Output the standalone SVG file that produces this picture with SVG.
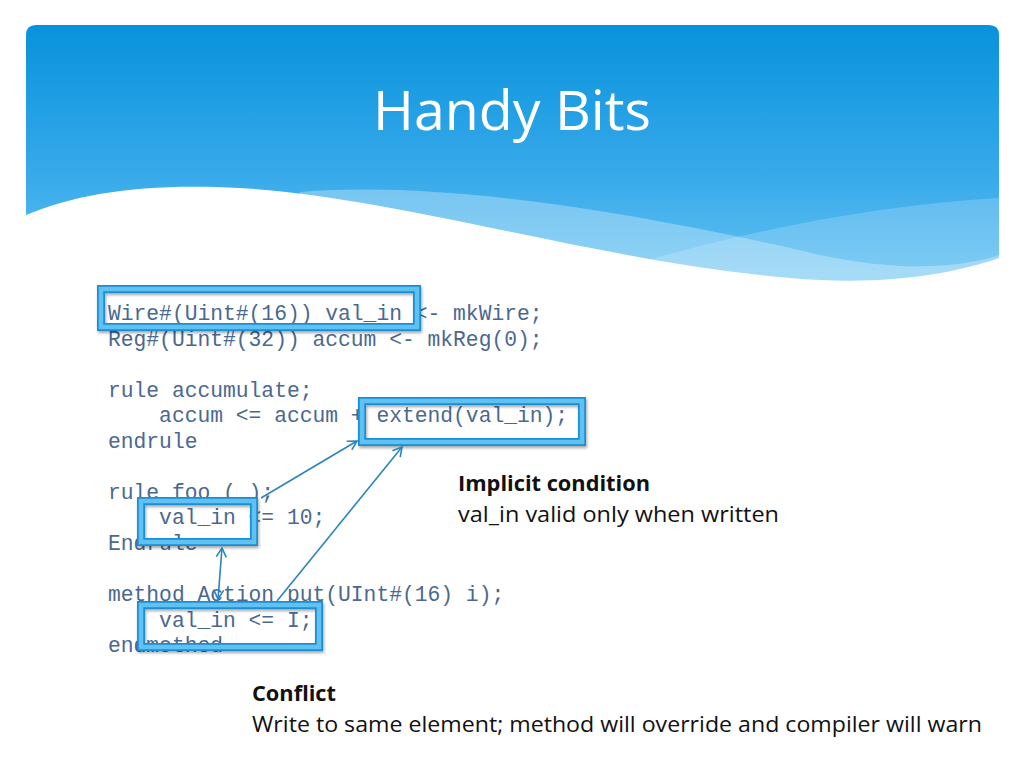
<svg xmlns="http://www.w3.org/2000/svg" width="1024" height="768" viewBox="0 0 1024 768">
<defs>
<linearGradient id="hdr" x1="0" y1="0" x2="0" y2="1">
<stop offset="0" stop-color="#0892dc"/>
<stop offset="0.55" stop-color="#38aaea"/>
<stop offset="1" stop-color="#6cc6f4"/>
</linearGradient>
<clipPath id="hclip"><path d="M26,35 Q26,25 36,25 H989 Q999,25 999,35 V300 H26 Z"/></clipPath>
<filter id="sh" x="-10%" y="-30%" width="120%" height="160%">
<feDropShadow dx="1" dy="2" stdDeviation="1.5" flood-color="#000" flood-opacity="0.35"/>
</filter>
<marker id="ah" markerWidth="12" markerHeight="12" refX="10" refY="6" orient="auto-start-reverse" markerUnits="userSpaceOnUse">
<path d="M1,1 L10,6 L1,11" fill="none" stroke="#2a85bd" stroke-width="1.6"/>
</marker>
<style>
.code{font-family:"Liberation Mono","Courier New",monospace;font-size:21.3px;fill:#4a6890}
.hl-o{fill:none;stroke:#1d8ed4;stroke-width:8}
.hl-i{fill:none;stroke:#5ec2f3;stroke-width:4.5}
.note{font-family:"Open Sans","Noto Sans",sans-serif;font-size:22px;fill:#111}
.bold{font-weight:bold}
.conn{stroke:#2a85bd;stroke-width:1.6;fill:none}
</style>
</defs>
<rect width="1024" height="768" fill="#fff"/>
<g id="header">
<g clip-path="url(#hclip)">
<rect x="26" y="25" width="973" height="275" fill="url(#hdr)"/>
<path d="M300,192 C 450,180 650,215 820,255 C 900,272 960,268 999,255 L999,300 L300,300 Z" fill="#fff" opacity="0.3"/>
<path d="M640,262 C 760,228 880,205 999,198 L999,300 L640,300 Z" fill="#fff" opacity="0.18"/>
<path d="M26,215 C 80,192 150,183 240,188 C 400,197 600,262 790,278 C 880,286 950,275 999,258 L999,300 L26,300 Z" fill="#fff"/>
</g>
<text x="512" y="130" text-anchor="middle" font-family="Open Sans, Noto Sans, sans-serif" font-size="55" fill="#fff" textLength="278" lengthAdjust="spacingAndGlyphs">Handy Bits</text>
</g>
<g id="code">
<text class="code" x="108" y="320" xml:space="preserve">Wire#(Uint#(16)) val_in &lt;- mkWire;</text>
<text class="code" x="108" y="346" xml:space="preserve">Reg#(Uint#(32)) accum &lt;- mkReg(0);</text>
<text class="code" x="108" y="397" xml:space="preserve">rule accumulate;</text>
<text class="code" x="108" y="422" xml:space="preserve">    accum &lt;= accum + extend(val_in);</text>
<text class="code" x="108" y="448" xml:space="preserve">endrule</text>
<text class="code" x="108" y="499" xml:space="preserve">rule foo ( );</text>
<text class="code" x="108" y="524" xml:space="preserve">    val_in &lt;= 10;</text>
<text class="code" x="108" y="550" xml:space="preserve">Endrule</text>
<text class="code" x="108" y="601" xml:space="preserve">method Action put(UInt#(16) i);</text>
<text class="code" x="108" y="627" xml:space="preserve">    val_in &lt;= I;</text>
<text class="code" x="108" y="652" xml:space="preserve">endmethod</text>
</g>
<g id="box1" filter="url(#sh)">
<rect class="hl-o" x="101" y="289" width="316" height="38"/>
<rect class="hl-i" x="101" y="289" width="316" height="38"/>
</g>
<g id="box2" filter="url(#sh)">
<rect class="hl-o" x="362" y="401" width="220" height="41"/>
<rect class="hl-i" x="362" y="401" width="220" height="41"/>
</g>
<g id="box3" filter="url(#sh)">
<rect class="hl-o" x="141" y="501" width="113" height="41"/>
<rect class="hl-i" x="141" y="501" width="113" height="41"/>
</g>
<g id="box4" filter="url(#sh)">
<rect class="hl-o" x="141" y="605" width="178" height="42"/>
<rect class="hl-i" x="141" y="605" width="178" height="42"/>
</g>
<g id="connectors">
<line class="conn" x1="261" y1="498" x2="357" y2="441" marker-end="url(#ah)"/>
<line class="conn" x1="277" y1="601" x2="402" y2="447" marker-end="url(#ah)"/>
<line class="conn" x1="218" y1="599" x2="222" y2="548" marker-start="url(#ah)" marker-end="url(#ah)"/>
</g>
<g id="notes">
<text class="note bold" x="458" y="491" textLength="192" lengthAdjust="spacingAndGlyphs">Implicit condition</text>
<text class="note" x="458" y="522" textLength="321" lengthAdjust="spacingAndGlyphs">val_in valid only when written</text>
<text class="note bold" x="252" y="701" textLength="84" lengthAdjust="spacingAndGlyphs">Conflict</text>
<text class="note" x="252" y="732" textLength="730" lengthAdjust="spacingAndGlyphs">Write to same element; method will override and compiler will warn</text>
</g>
</svg>
